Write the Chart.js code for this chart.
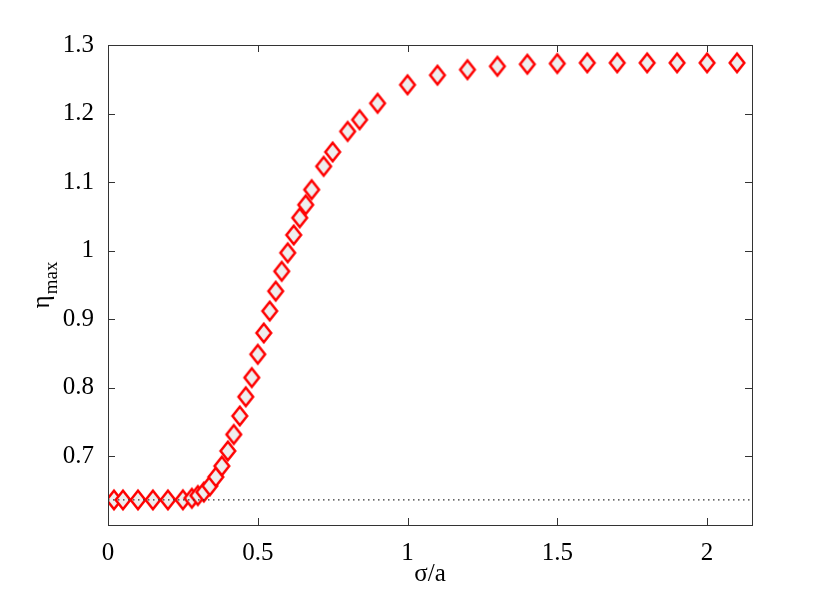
<!DOCTYPE html>
<html><head><meta charset="utf-8">
<script src="https://cdn.jsdelivr.net/npm/chart.js@4/dist/chart.umd.min.js"></script>
<style>html,body{margin:0;padding:0;background:#fff}#wrap{width:830px;height:592px;position:relative}</style>
</head><body><div id="wrap"><canvas id="c" width="830" height="592"></canvas></div>
<script>
// ---- data ----
const sigmaA = [0.02,0.05,0.10,0.15,0.20,0.25,0.28,0.30,0.32,0.34,0.36,0.38,0.40,0.42,0.44,0.46,0.48,0.50,0.52,0.54,0.56,0.58,0.60,0.62,0.64,0.66,0.68,0.72,0.75,0.80,0.84,0.90,1.0,1.1,1.2,1.3,1.4,1.5,1.6,1.7,1.8,1.9,2.0,2.1];
const etaMax = [0.6366,0.6366,0.6366,0.6366,0.6366,0.6368,0.639,0.643,0.648,0.657,0.670,0.686,0.708,0.732,0.759,0.787,0.815,0.849,0.880,0.912,0.941,0.970,0.997,1.023,1.048,1.067,1.089,1.123,1.144,1.174,1.191,1.215,1.242,1.256,1.264,1.269,1.272,1.273,1.274,1.274,1.274,1.274,1.274,1.274];
const refLevel = 0.6366;          // dotted reference line
const xRange = [0, 2.15];
const yRange = [0.6, 1.3];
const xTicks = [0, 0.5, 1, 1.5, 2];
const yTicks = [0.7, 0.8, 0.9, 1.0, 1.1, 1.2, 1.3];
const xTitle = 'σ/a';
const yTitleMain = 'η';
const yTitleSub = 'max';

const FONT = '"Liberation Serif", "Times New Roman", serif';
const fmt = v => String(Math.round(v * 10) / 10);

// diamond marker (MATLAB style: slightly taller than wide)
function makeDiamond() {
  const c = document.createElement('canvas');
  c.width = 20; c.height = 24;
  const g = c.getContext('2d');
  const cx = 10, cy = 12, hw = 7.3, hh = 9.2;
  g.beginPath();
  g.moveTo(cx, cy - hh); g.lineTo(cx + hw, cy); g.lineTo(cx, cy + hh); g.lineTo(cx - hw, cy);
  g.closePath();
  g.fillStyle = '#eeeeee'; g.fill();
  g.lineJoin = 'miter'; g.lineWidth = 2.5; g.strokeStyle = '#ff0000'; g.stroke();
  return c;
}
const diamond = makeDiamond();

const boxPlugin = {
  id: 'boxPlugin',
  afterDraw(chart) {
    const ctx = chart.ctx, a = chart.chartArea;
    const xs = chart.scales.x, ys = chart.scales.y;
    ctx.save();
    ctx.strokeStyle = '#333'; ctx.lineWidth = 1;
    ctx.strokeRect(Math.round(a.left) + 0.5, Math.round(a.top) + 0.5, Math.round(a.right - a.left), Math.round(a.bottom - a.top));
    const L = 7;
    ctx.beginPath();
    xTicks.forEach(v => {
      const px = Math.round(xs.getPixelForValue(v)) + 0.5;
      ctx.moveTo(px, a.bottom); ctx.lineTo(px, a.bottom - L);
      ctx.moveTo(px, a.top); ctx.lineTo(px, a.top + L);
    });
    yTicks.forEach(v => {
      const py = Math.round(ys.getPixelForValue(v)) + 0.5;
      ctx.moveTo(a.left, py); ctx.lineTo(a.left + L, py);
      ctx.moveTo(a.right, py); ctx.lineTo(a.right - L, py);
    });
    ctx.stroke();
    // y-axis title with subscript
    ctx.fillStyle = '#000';
    ctx.font = '25px ' + FONT;
    const w1 = ctx.measureText(yTitleMain).width;
    ctx.font = '19px ' + FONT;
    const w2 = ctx.measureText(yTitleSub).width;
    const W = w1 + w2 + 1;
    const cy = (a.top + a.bottom) / 2;
    ctx.translate(49, cy);
    ctx.rotate(-Math.PI / 2);
    ctx.textBaseline = 'alphabetic';
    ctx.textAlign = 'left';
    ctx.font = '25px ' + FONT;
    ctx.fillText(yTitleMain, -W / 2, 0);
    ctx.font = '19px ' + FONT;
    ctx.fillText(yTitleSub, -W / 2 + w1 + 1, 8);
    ctx.restore();
  }
};

new Chart(document.getElementById('c'), {
  type: 'scatter',
  data: {
    datasets: [
      {
        type: 'line',
        data: [{x: xRange[0], y: refLevel}, {x: xRange[1], y: refLevel}],
        borderColor: '#333',
        borderWidth: 1.3,
        borderDash: [1.5, 3.5],
        pointRadius: 0,
        fill: false,
        order: 0
      },
      {
        data: sigmaA.map((x, i) => ({x, y: etaMax[i]})),
        pointStyle: diamond,
        pointRadius: 9,
        showLine: false,
        order: 1
      }
    ]
  },
  options: {
    responsive: false,
    animation: false,
    devicePixelRatio: 1,
    layout: { padding: { top: 45, right: 78, left: 0, bottom: 0 } },
    plugins: { legend: { display: false }, tooltip: { enabled: false } },
    scales: {
      x: {
        type: 'linear', position: 'bottom',
        min: xRange[0], max: xRange[1],
        afterBuildTicks: s => { s.ticks = xTicks.map(v => ({ value: v })); },
        afterFit: s => { s.height = 67; },
        grid: { display: false },
        border: { display: false },
        ticks: { color: '#000', font: { family: FONT, size: 25 }, padding: 5, maxRotation: 0, autoSkip: false, callback: v => fmt(v) },
        title: { display: true, text: xTitle, color: '#000', font: { family: FONT, size: 25 }, padding: { top: 0, bottom: 3 } }
      },
      y: {
        type: 'linear', position: 'left',
        min: yRange[0], max: yRange[1],
        afterBuildTicks: s => { s.ticks = yTicks.map(v => ({ value: v })); },
        afterFit: s => { s.width = 108; },
        grid: { display: false },
        border: { display: false },
        ticks: { color: '#000', font: { family: FONT, size: 25 }, padding: 6, autoSkip: false, callback: v => fmt(v) }
      }
    }
  },
  plugins: [boxPlugin]
});
</script>
</body></html>
